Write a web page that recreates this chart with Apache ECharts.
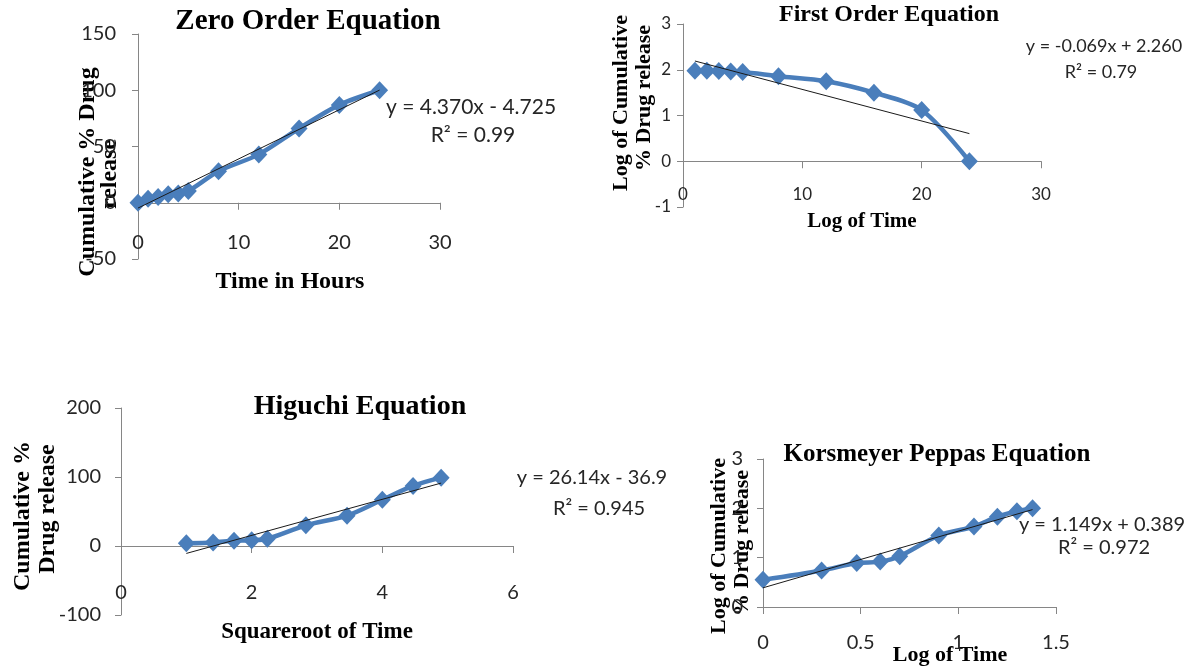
<!DOCTYPE html>
<html>
<head>
<meta charset="utf-8">
<script src="https://cdn.jsdelivr.net/npm/echarts@6/dist/echarts.min.js"></script>
<style>
html,body{margin:0;padding:0;background:#fff;}
#chart{width:1194px;height:666px;}
</style>
</head>
<body>
<div id="chart"></div>
<script>
// ---- Data ----
const zeroTime = [0, 1, 2, 3, 4, 5, 8, 12, 16, 20, 24];
const zeroRelease = [0, 3.5, 5.2, 7.6, 8.3, 10.5, 28, 43, 66, 87, 100];

const firstTime = [1, 2, 3, 4, 5, 8, 12, 16, 20, 24];
const firstLogRemain = [1.98, 1.98, 1.97, 1.96, 1.95, 1.86, 1.75, 1.5, 1.12, 0];

const higuchiSqrtTime = [1, 1.41, 1.73, 2, 2.24, 2.83, 3.46, 4, 4.47, 4.9];
const higuchiRelease = [4, 5.2, 7.6, 8.3, 10.5, 30, 44, 67, 87, 99];

const kpLogTime = [0, 0.30, 0.48, 0.60, 0.70, 0.90, 1.08, 1.20, 1.30, 1.38];
const kpLogRelease = [0.55, 0.74, 0.89, 0.92, 1.03, 1.45, 1.63, 1.83, 1.94, 2.0];

// trendline coefficients (slope, intercept) as printed on the chart
const trendSlopes = [4.370, -0.069, 26.14, 1.149];
const trendIntercepts = [-4.725, 2.260, -36.9, 0.389];

const chartTitles = ['Zero Order Equation', 'First Order Equation', 'Higuchi Equation', 'Korsmeyer Peppas Equation'];
const xTitles = ['Time in Hours', 'Log of Time', 'Squareroot of Time', 'Log of Time'];
const yTitles = [['Cumulative % Drug', 'release'], ['Log of Cumulative', '% Drug release'], ['Cumulative %', 'Drug release'], ['Log of Cumulative', '% Drug release']];
const equations = [['y = 4.370x - 4.725', 'R\u00b2 = 0.99'], ['y = -0.069x + 2.260', 'R\u00b2 = 0.79'], ['y = 26.14x - 36.9', 'R\u00b2 = 0.945'], ['y = 1.149x + 0.389', 'R\u00b2 = 0.972']];

// ---- layout ----
const grids = [
  {left: 138, top: 34, width: 302, height: 225},
  {left: 683, top: 24, width: 358, height: 183},
  {left: 121, top: 408, width: 392, height: 207},
  {left: 763, top: 459, width: 293, height: 148}
];
const xRanges = [[0, 30, 10], [0, 30, 10], [0, 6, 2], [0, 1.5, 0.5]];
const yRanges = [[-50, 150, 50], [-1, 3, 1], [-100, 200, 100], [0, 3, 1]];
const xLabelMargin = [-26, -21, -32, 26];
const yLabelMargin = [22, 12, 20, 20];
const tickFont = [20, 17, 20, 20];

const blue = '#4A7EBB';
const axisGray = '#868686';
const labelColor = '#262626';
const sansFont = 'Lato, "Open Sans", sans-serif';
const serifFont = '"Liberation Serif", "Times New Roman", serif';

const seriesSets = [
  [zeroTime, zeroRelease],
  [firstTime, firstLogRemain],
  [higuchiSqrtTime, higuchiRelease],
  [kpLogTime, kpLogRelease]
];

const xAxes = [], yAxes = [], series = [];
for (let i = 0; i < 4; i++) {
  xAxes.push({
    type: 'value', gridIndex: i, min: xRanges[i][0], max: xRanges[i][1], interval: xRanges[i][2],
    splitLine: {show: false},
    axisLine: {show: true, onZero: true, lineStyle: {color: axisGray, width: 1}},
    axisTick: {show: true, length: 7, lineStyle: {color: axisGray}},
    axisLabel: {color: labelColor, fontSize: tickFont[i], fontFamily: sansFont, margin: xLabelMargin[i]}
  });
  yAxes.push({
    type: 'value', gridIndex: i, min: yRanges[i][0], max: yRanges[i][1], interval: yRanges[i][2],
    splitLine: {show: false},
    axisLine: {show: true, onZero: false, lineStyle: {color: axisGray, width: 1}},
    axisTick: {show: true, length: 6, lineStyle: {color: axisGray}},
    axisLabel: {color: labelColor, fontSize: tickFont[i], fontFamily: sansFont, margin: yLabelMargin[i]}
  });
  const xs = seriesSets[i][0], ys = seriesSets[i][1];
  series.push({
    type: 'line', xAxisIndex: i, yAxisIndex: i,
    data: xs.map((x, k) => [x, ys[k]]),
    smooth: 0.3,
    symbol: 'diamond', symbolSize: [17, 18],
    lineStyle: {color: blue, width: 4.5},
    itemStyle: {color: blue},
    z: 3, animation: false
  });
  const x0 = Math.min.apply(null, xs), x1 = Math.max.apply(null, xs);
  series.push({
    type: 'line', xAxisIndex: i, yAxisIndex: i,
    data: [[x0, trendSlopes[i] * x0 + trendIntercepts[i]], [x1, trendSlopes[i] * x1 + trendIntercepts[i]]],
    symbol: 'none',
    lineStyle: {color: '#1a1a1a', width: 1},
    z: 4, animation: false
  });
}

// text placement
const titlePos = [[308, 22, 29], [889, 15, 24], [360, 407, 28], [937, 455, 25]];
const xTitlePos = [[290, 282, 24], [862, 222, 21], [317, 632, 23], [950, 655, 22]];
const yTitlePos = [[[88, 172], [110, 174], 24], [[621, 103], [644, 98], 22], [[23, 516], [48, 509], 24], [[719, 546], [742, 543], 22]];
const eqPos = [[[471, 107], [473, 135], 21], [[1104, 46], [1101, 72], 18], [[592, 478], [599, 509], 20], [[1102, 525], [1104, 548], 20]];

const graphics = [];
for (let i = 0; i < 4; i++) {
  graphics.push({type: 'text', x: titlePos[i][0], y: titlePos[i][1],
    style: {text: chartTitles[i], font: 'bold ' + titlePos[i][2] + 'px ' + serifFont, fill: '#000', align: 'center', verticalAlign: 'middle'}});
  graphics.push({type: 'text', x: xTitlePos[i][0], y: xTitlePos[i][1],
    style: {text: xTitles[i], font: 'bold ' + xTitlePos[i][2] + 'px ' + serifFont, fill: '#000', align: 'center', verticalAlign: 'middle'}});
  for (let l = 0; l < 2; l++) {
    graphics.push({type: 'text', x: yTitlePos[i][l][0], y: yTitlePos[i][l][1], rotation: Math.PI / 2,
      style: {text: yTitles[i][l], font: 'bold ' + yTitlePos[i][2] + 'px ' + serifFont, fill: '#000', align: 'center', verticalAlign: 'middle'}});
    graphics.push({type: 'text', x: eqPos[i][l][0], y: eqPos[i][l][1],
      style: {text: equations[i][l], font: eqPos[i][2] + 'px ' + sansFont, fill: labelColor, align: 'center', verticalAlign: 'middle'}});
  }
}

const chart = echarts.init(document.getElementById('chart'), null, {renderer: 'canvas'});
chart.setOption({
  animation: false,
  backgroundColor: '#fff',
  grid: grids.map(g => Object.assign({containLabel: false}, g)),
  xAxis: xAxes,
  yAxis: yAxes,
  series: series,
  graphic: graphics
});
</script>
</body>
</html>
